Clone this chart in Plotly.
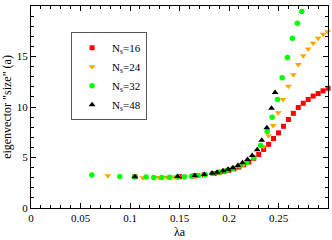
import plotly.graph_objects as go

x16 = [0.105, 0.150, 0.165, 0.175, 0.185, 0.190, 0.195, 0.200, 0.205, 0.210, 0.215, 0.220, 0.225,
       0.230, 0.235, 0.240, 0.245, 0.250, 0.255, 0.260, 0.265, 0.270, 0.275, 0.280, 0.285, 0.290, 0.295, 0.300]
y16 = [3.09, 3.10, 3.18, 3.28, 3.42, 3.52, 3.62, 3.74, 3.88, 4.05, 4.28, 4.55, 4.92,
       5.30, 5.80, 6.30, 6.88, 7.44, 8.09, 8.76, 9.37, 9.95, 10.37, 10.75, 11.08, 11.33, 11.60, 11.85]

x24 = [0.0776, 0.113, 0.129, 0.137, 0.145, 0.155, 0.165, 0.175, 0.185, 0.195, 0.205, 0.215, 0.225,
       0.235, 0.240, 0.2447, 0.2497, 0.2547, 0.260, 0.265, 0.270, 0.275, 0.280, 0.285, 0.290, 0.295, 0.2998]
y24 = [3.19, 3.00, 3.02, 3.04, 3.07, 3.12, 3.20, 3.30, 3.45, 3.66, 3.92, 4.30, 4.95,
       6.10, 7.15, 8.18, 9.44, 10.75, 12.05, 13.20, 14.20, 15.07, 15.75, 16.30, 16.80, 17.20, 17.46]

x32 = [0.0614, 0.0897, 0.1045, 0.1163, 0.124, 0.132, 0.140, 0.148, 0.155, 0.162, 0.169, 0.176, 0.183,
       0.190, 0.197, 0.204, 0.211, 0.218, 0.225, 0.232, 0.2386, 0.2436, 0.249, 0.2537, 0.259, 0.264,
       0.269, 0.2735, 0.277]
y32 = [3.26, 3.12, 3.09, 3.06, 3.02, 3.03, 3.05, 3.08, 3.10, 3.15, 3.22, 3.30, 3.42,
       3.55, 3.70, 3.90, 4.15, 4.50, 5.00, 6.20, 7.57, 8.99, 10.75, 12.90, 14.90, 16.80,
       18.30, 19.45, 20.10]

x48 = [0.105, 0.148, 0.1655, 0.175, 0.183, 0.188, 0.194, 0.199, 0.204, 0.209, 0.2136, 0.2187, 0.2234,
       0.2285, 0.2331, 0.2382, 0.243, 0.2466]
y48 = [3.10, 3.12, 3.22, 3.32, 3.45, 3.55, 3.70, 3.83, 3.99, 4.22, 4.47, 4.80, 5.19,
       5.77, 6.70, 7.95, 9.88, 11.43]

labels = ["N<sub>s</sub>=16", "N<sub>s</sub>=24", "N<sub>s</sub>=32", "N<sub>s</sub>=48"]
xticks = [0, 0.05, 0.1, 0.15, 0.2, 0.25]
xticklabels = ["0", "0.05", "0.1", "0.15", "0.2", "0.25"]
yticks = [0, 5, 10, 15, 20]

serif = "Liberation Serif, Times New Roman, serif"

fig = go.Figure()
fig.add_trace(go.Scatter(x=x16, y=y16, mode="markers", name=labels[0], cliponaxis=False,
                         marker=dict(symbol="square", size=5, color="#ff0000")))
fig.add_trace(go.Scatter(x=x24, y=y24, mode="markers", name=labels[1], cliponaxis=False,
                         marker=dict(symbol="triangle-down", size=6, color="#ffa500")))
fig.add_trace(go.Scatter(x=x32, y=y32, mode="markers", name=labels[2], cliponaxis=False,
                         marker=dict(symbol="circle", size=5.5, color="#00ff00")))
fig.add_trace(go.Scatter(x=x48, y=y48, mode="markers", name=labels[3], cliponaxis=False,
                         marker=dict(symbol="triangle-up", size=6, color="#000000")))

axis_common = dict(showgrid=False, zeroline=False, showline=True, linecolor="black", linewidth=1,
                   mirror="allticks", ticks="inside", ticklen=5, tickcolor="black",
                   tickfont=dict(family=serif, size=11, color="black"))
fig.update_xaxes(range=[0, 0.3], tickvals=xticks, ticktext=xticklabels,
                 minor=dict(ticks="inside", dtick=0.01, tick0=0, ticklen=3, tickcolor="black"),
                 title=dict(text="λa", font=dict(family=serif, size=12, color="black"), standoff=4),
                 **axis_common)
fig.update_yaxes(range=[0, 20], tickvals=yticks,
                 minor=dict(ticks="inside", dtick=1, tick0=0, ticklen=3, tickcolor="black"),
                 title=dict(text="eigenvector \"size\" (a)", font=dict(family=serif, size=12, color="black"), standoff=3),
                 **axis_common)
fig.update_layout(
    width=332, height=240,
    margin=dict(l=31, r=3, t=6, b=27),
    paper_bgcolor="white", plot_bgcolor="white",
    legend=dict(x=0.135, y=0.87, xanchor="left", yanchor="top", bgcolor="white",
                bordercolor="#555555", borderwidth=1,
                font=dict(family=serif, size=11, color="black"),
                itemwidth=30, tracegroupgap=0),
    showlegend=True,
)
fig.write_html("out.html", config={"displayModeBar": False},
               post_script="document.body.style.margin='0px';document.body.style.overflow='hidden';")
